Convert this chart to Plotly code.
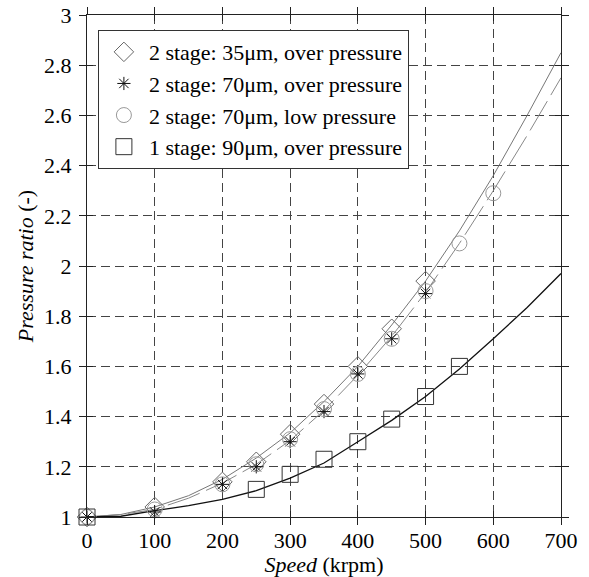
import plotly.graph_objects as go

# ---- data ----
speed_35_op = [0, 100, 200, 250, 300, 350, 400, 450, 500]
pr_35_op = [1.0, 1.04, 1.14, 1.22, 1.33, 1.45, 1.60, 1.75, 1.94]

speed_70_op = [0, 100, 200, 250, 300, 350, 400, 450, 500]
pr_70_op = [1.0, 1.02, 1.13, 1.20, 1.30, 1.42, 1.57, 1.71, 1.89]

speed_70_lp = [0, 100, 200, 250, 300, 350, 400, 450, 500, 550, 600]
pr_70_lp = [1.0, 1.03, 1.13, 1.21, 1.31, 1.43, 1.57, 1.71, 1.90, 2.09, 2.29]

speed_90_op = [0, 250, 300, 350, 400, 450, 500, 550]
pr_90_op = [1.0, 1.11, 1.17, 1.23, 1.30, 1.39, 1.48, 1.60]

# model curves
curve_speed = [0, 50, 100, 150, 200, 250, 300, 350, 400, 450, 500, 550, 600, 650, 700]
curve_2stage_a = [1.0, 1.01, 1.04, 1.085, 1.15, 1.235, 1.335, 1.46, 1.60, 1.765, 1.94, 2.14, 2.36, 2.60, 2.85]
curve_2stage_b = [1.0, 1.01, 1.03, 1.075, 1.135, 1.21, 1.305, 1.425, 1.565, 1.72, 1.895, 2.09, 2.30, 2.52, 2.75]
curve_1stage = [1.0, 1.003, 1.025, 1.045, 1.07, 1.105, 1.155, 1.215, 1.30, 1.385, 1.48, 1.59, 1.71, 1.835, 1.97]

x_ticks = [0, 100, 200, 300, 400, 500, 600, 700]
y_ticks = [1, 1.2, 1.4, 1.6, 1.8, 2, 2.2, 2.4, 2.6, 2.8, 3]
y_tick_text = ["1", "1.2", "1.4", "1.6", "1.8", "2", "2.2", "2.4", "2.6", "2.8", "3"]

FONT = "Liberation Serif"

fig = go.Figure()

# curves
fig.add_trace(go.Scatter(x=curve_speed, y=curve_2stage_a, mode="lines",
                         line=dict(color="#777777", width=1), showlegend=False, hoverinfo="skip"))
fig.add_trace(go.Scatter(x=curve_speed, y=curve_2stage_b, mode="lines",
                         line=dict(color="#888888", width=1, dash="34px,7px"), showlegend=False, hoverinfo="skip"))
fig.add_trace(go.Scatter(x=curve_speed, y=curve_1stage, mode="lines",
                         line=dict(color="#111111", width=1.3), showlegend=False, hoverinfo="skip"))

# markers
fig.add_trace(go.Scatter(x=speed_35_op, y=pr_35_op, mode="markers",
                         name="2 stage: 35\u03bcm, over pressure",
                         marker=dict(symbol="diamond-open", size=15, color="#666666", line=dict(width=1)),
                         cliponaxis=False))
fig.add_trace(go.Scatter(x=speed_70_op, y=pr_70_op, mode="markers",
                         name="2 stage: 70\u03bcm, over pressure",
                         marker=dict(symbol="asterisk-open", size=11, color="#111111", line=dict(width=1, color="#111111")),
                         cliponaxis=False))
fig.add_trace(go.Scatter(x=speed_70_lp, y=pr_70_lp, mode="markers",
                         name="2 stage: 70\u03bcm, low pressure",
                         marker=dict(symbol="circle-open", size=15, color="#999999", line=dict(width=1)),
                         cliponaxis=False))
fig.add_trace(go.Scatter(x=speed_90_op, y=pr_90_op, mode="markers",
                         name="1 stage: 90\u03bcm, over pressure",
                         marker=dict(symbol="square-open", size=16, color="#333333", line=dict(width=1)),
                         cliponaxis=False))

axis_common = dict(
    showline=True, linecolor="#222222", linewidth=1.3, mirror="ticks",
    ticks="outside", ticklen=7, tickwidth=1.2, tickcolor="#222222",
    showgrid=True, gridcolor="#444444", gridwidth=1.2, griddash="9px,5px",
    zeroline=False, automargin=False,
    tickfont=dict(family=FONT, size=22, color="black"),
)

fig.update_layout(
    template="none",
    width=589, height=577,
    margin=dict(l=87, r=28, t=15, b=60),
    paper_bgcolor="white", plot_bgcolor="white",
    font=dict(family=FONT, size=22, color="black"),
    xaxis=dict(range=[0, 700], tickvals=x_ticks, ticktext=[str(v) for v in x_ticks],
               title=dict(text="<i>Speed</i> (krpm)", font=dict(family=FONT, size=22)),
               ticklabelstandoff=-4, **axis_common),
    yaxis=dict(range=[1, 3], tickvals=y_ticks, ticktext=y_tick_text,
               title=dict(text="<i>Pressure ratio</i> (-)", font=dict(family=FONT, size=22)),
               ticklabelstandoff=3, **axis_common),
    xaxis2=dict(range=[0, 700], overlaying="x", tickvals=x_ticks, showticklabels=False,
                ticks="inside", ticklen=6, tickwidth=1.2, tickcolor="#222222", mirror="ticks",
                showline=False, showgrid=False, zeroline=False, automargin=False),
    yaxis2=dict(range=[1, 3], overlaying="y", tickvals=y_ticks, showticklabels=False,
                ticks="inside", ticklen=6, tickwidth=1.2, tickcolor="#222222", mirror="ticks",
                showline=False, showgrid=False, zeroline=False, automargin=False),
    legend=dict(x=0.023, y=0.97, xanchor="left", yanchor="top",
                bgcolor="white", bordercolor="#333333", borderwidth=1,
                font=dict(family=FONT, size=22, color="black"),
                itemwidth=40, tracegroupgap=0),
    showlegend=True,
)

# invisible trace to activate overlay axes
fig.add_trace(go.Scatter(x=[0], y=[1], xaxis="x2", yaxis="y2", mode="markers",
                         marker=dict(opacity=0), showlegend=False, hoverinfo="skip"))

fig.write_html("out.html", config={"displayModeBar": False},
               post_script="document.body.style.margin='0';")
